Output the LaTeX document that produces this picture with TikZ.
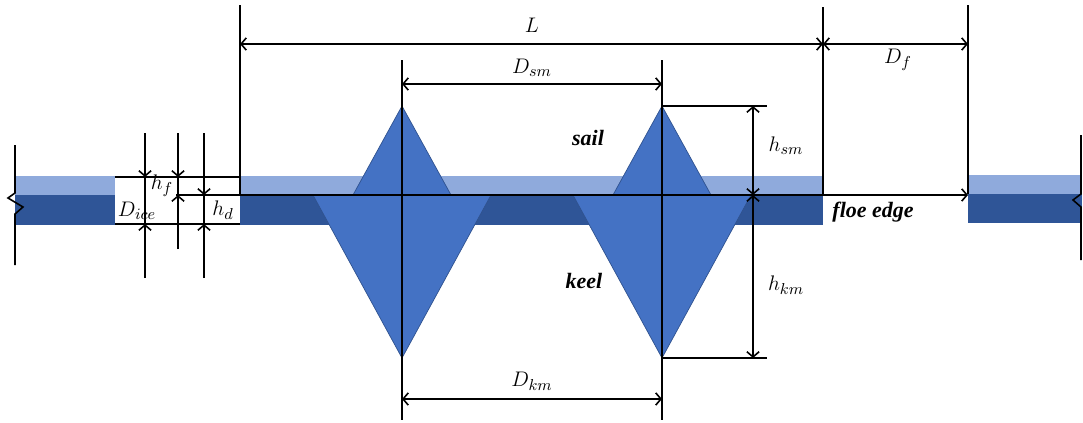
\documentclass[tikz,border=0pt]{standalone}
\usepackage{fontspec}
\setmainfont{Liberation Serif}
\usetikzlibrary{arrows.meta}
\definecolor{iceL}{HTML}{8FAADC}
\definecolor{iceD}{HTML}{2F5597}
\definecolor{ridge}{HTML}{4472C4}
\definecolor{ridgeE}{HTML}{2F528F}
\begin{document}
\begin{tikzpicture}[x=0.02cm,y=-0.02cm,
  >={Straight Barb[length=3pt,width=7pt]},
  ln/.style={draw=black,line width=0.9pt},
  dimln/.style={ln,<->},
  tri/.style={fill=ridge,draw=ridgeE,line width=0.4pt,line join=miter},
  lbl/.style={font=\fontsize{12.5}{14}\selectfont,inner sep=0pt},
  word/.style={font=\fontsize{12.5}{14}\selectfont\bfseries\itshape,inner sep=0pt}]
\useasboundingbox (0,0) rectangle (1083,423);
% floes
\fill[iceL] (15,176) rectangle (115,195);
\fill[iceD] (15,195) rectangle (115,225);
\fill[iceL] (240,176) rectangle (823,195);
\fill[iceD] (240,195) rectangle (823,225);
\fill[iceL] (968,175) rectangle (1082,194);
\fill[iceD] (968,194) rectangle (1082,223);
% ridges
\coordinate (s1) at (402,106); \coordinate (s2) at (662,106);
\coordinate (k1) at (402,358); \coordinate (k2) at (662,358);
\draw[tri] (353,195) -- (s1) -- (451,195) -- cycle;
\draw[tri] (613,195) -- (s2) -- (711,195) -- cycle;
\draw[tri] (313,195) -- (k1) -- (491,195) -- cycle;
\draw[tri] (573,195) -- (k2) -- (751,195) -- cycle;
% break lines
\draw[ln] (15,145) -- (15,193) -- (8,198) -- (23,207) -- (15,214) -- (15,265);
\draw[ln] (1081,135) -- (1081,194) -- (1073,200) -- (1081,207) -- (1081,260);
% extension lines
\coordinate (a0) at (240,5); \coordinate (a1) at (240,195);
\coordinate (b0) at (823,7); \coordinate (b1) at (823,195);
\coordinate (c0) at (968,5); \coordinate (c1) at (968,194);
\draw[ln] (a0) -- (a1);
\draw[ln] (b0) -- (b1);
\draw[ln] (c0) -- (c1);
\draw[ln] (402,60) -- (402,420);
\draw[ln] (662,60) -- (662,420);
\draw[ln] (s2) -- (767,106);
\draw[ln] (k2) -- (767,358);
% cut-out outline at the left
\draw[ln] (115,177) -- (240,177);
\draw[ln] (115,224) -- (240,224);
% waterline and floe edge arrow
\coordinate (w0) at (176,195); \coordinate (w1) at (968,195);
\draw[ln,->] (w0) -- (w1);
% dimensions
\coordinate (L0) at (240,44); \coordinate (L1) at (823,44); \coordinate (L2) at (968,44);
\draw[dimln] (L0) -- (L1);
\draw[dimln] (L1) -- (L2);
\coordinate (ds0) at (402,84); \coordinate (ds1) at (662,84);
\draw[dimln] (ds0) -- (ds1);
\coordinate (dk0) at (402,399); \coordinate (dk1) at (662,399);
\draw[dimln] (dk0) -- (dk1);
\coordinate (hs0) at (753,106); \coordinate (hs1) at (753,195); \coordinate (hk1) at (753,358);
\draw[dimln] (hs0) -- (hs1);
\draw[dimln] (hs1) -- (hk1);
% left small dimensions
\draw[ln] (145,177) -- (145,224);
\draw[ln,->] (145,133) -- (145,177);
\draw[ln,->] (145,278) -- (145,224);
\draw[ln] (178,177) -- (178,195);
\draw[ln,->] (178,133) -- (178,177);
\draw[ln,->] (178,249) -- (178,195);
\draw[ln] (204,195) -- (204,224);
\draw[ln,->] (204,133) -- (204,195);
\draw[ln,->] (204,278) -- (204,224);
% labels
\node[lbl] (tL) at (532,25) {$L$};
\node[lbl] (tDf) at (898,60) {$D_f$};
\node[lbl] (tDsm) at (532,68) {$D_{sm}$};
\node[lbl] (tDkm) at (532,381) {$D_{km}$};
\node[lbl] (thsm) at (786,146) {$h_{sm}$};
\node[lbl] (thkm) at (786,285) {$h_{km}$};
\node[lbl] (thf) at (162,186) {$h_f$};
\node[lbl] (tDice) at (137,211) {$D_{ice}$};
\node[lbl] (thd) at (223,210) {$h_d$};
\node[word] (tsail) at (588,138) {sail};
\node[word] (tkeel) at (584,281) {keel};
\node[word] (tfloe) at (873,212) {floe edge};
\end{tikzpicture}
\end{document}
